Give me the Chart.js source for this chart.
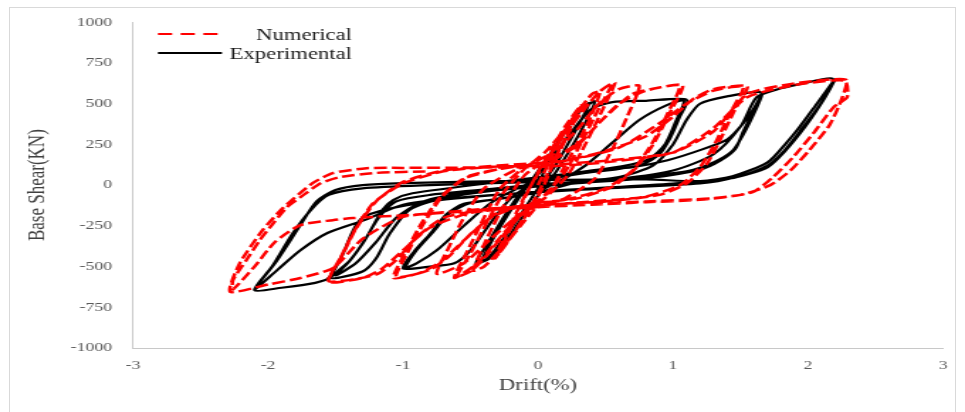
<!DOCTYPE html>
<html>
<head>
<meta charset="utf-8">
<title>Base Shear vs Drift</title>
<script src="https://cdn.jsdelivr.net/npm/chart.js@4.4.0/dist/chart.umd.min.js"></script>
<style>
  html, body { margin: 0; padding: 0; background: #ffffff; overflow: hidden; }
  #border { position: absolute; left: 9px; top: 7px; width: 947px; height: 410px; border: 1px solid #d9d9d9; box-sizing: border-box; }
  #frame { position: absolute; left: 0; top: 0; width: 680px; height: 412px; transform: scaleX(1.41912); transform-origin: 0 0; }
</style>
</head>
<body>
<div id="border"></div>
<div id="frame"><canvas id="chart"></canvas></div>
<script>
// Series names and axis ticks
const seriesNames = ['Numerical', 'Experimental'];
const driftTicks = [-3, -2, -1, 0, 1, 2, 3];
const shearTicks = [-1000, -750, -500, -250, 0, 250, 500, 750, 1000];

// Numerical model: drift (%) and base shear (kN), one continuous load history
const numDrift = [
  0, 0.1, 0.2, 0.3, 0.22, 0.1, 0, -0.1, -0.2, -0.3, -0.2, -0.1, 0, 0.1, 0.2, 0.32, 0.24, 0.12, 0.02, -0.1, -0.22, -0.32, -0.22, -0.1, 0,
  0.15, 0.3, 0.45, 0.55, 0.45, 0.32, 0.2, 0.05, -0.1, -0.25, -0.4, -0.5, -0.6, -0.5, -0.38, -0.25, -0.1, 0.05, 0.2, 0.35, 0.48, 0.57, 0.47, 0.35, 0.22, 0.05, -0.15, -0.3, -0.45, -0.62, -0.52, -0.4, -0.28, -0.1,
  0.1, 0.25, 0.4, 0.46, 0.38, 0.24, 0.1, -0.08, -0.26, -0.4, -0.48, -0.38, -0.25, -0.1,
  0.1, 0.3, 0.45, 0.6, 0.75, 0.66, 0.55, 0.42, 0.2, -0.1, -0.35, -0.55, -0.75, -0.66, -0.55, -0.4, -0.15,
  0.1, 0.3, 0.45, 0.6, 0.8, 1.07, 0.98, 0.86, 0.72, 0.55, 0.3, 0, -0.3, -0.5, -0.65, -0.8, -1.05, -0.97, -0.85, -0.72, -0.55, -0.25, 0.05, 0.3, 0.5, 0.7, 0.9, 1.05, 0.96, 0.84, 0.7, 0.5, 0.2, -0.1, -0.35, -0.55, -0.72, -0.88, -1.07, -0.98, -0.86, -0.72, -0.5, -0.2,
  0.2, 0.5, 0.8, 1.0, 1.15, 1.3, 1.55, 1.45, 1.35, 1.25, 1.1, 0.9, 0.5, 0, -0.4, -0.7, -0.9, -1.05, -1.2, -1.55, -1.45, -1.35, -1.2, -1.0, -0.7, -0.3, 0.2, 0.6, 0.9, 1.1, 1.3, 1.52, 1.42, 1.32, 1.2, 1.05, 0.8, 0.4, 0, -0.5, -0.8, -1.0, -1.15, -1.3, -1.55, -1.46, -1.36, -1.22, -1.0, -0.7, -0.3,
  0, 0.5, 1.0, 1.3, 1.55, 1.9, 2.28, 2.25, 2.16, 2.01, 1.87, 1.72, 1.5, 1.2, 0.8, 0.4, 0, -0.5, -1.0, -1.3, -1.52, -1.76, -2.0, -2.28, -2.21, -2.04, -1.89, -1.67, -1.52, -1.27, -1.0, -0.5, 0, 0.5, 1.0, 1.3, 1.55, 1.9, 2.27, 2.29, 2.19, 2.04, 1.89, 1.74, 1.59, 1.3, 0.8, 0.3, -0.3, -0.9, -1.37, -1.52, -1.76, -1.95, -2.1, -2.26, -2.26, -2.16, -2.06, -1.96, -1.86, -1.76, -1.61, -1.47, -1.2, -0.8
];
const numShear = [
  0, 170, 330, 470, 320, 120, -50, -190, -320, -430, -260, -80, 80, 220, 360, 490, 340, 140, -40, -200, -340, -450, -270, -70, 70,
  260, 420, 570, 625, 470, 260, 80, -60, -160, -300, -450, -530, -560, -420, -230, -40, 100, 200, 340, 480, 590, 630, 450, 250, 60, -80, -200, -340, -480, -570, -400, -200, -20, 110,
  200, 400, 560, 575, 400, 180, -20, -200, -380, -500, -525, -330, -120, 60,
  180, 350, 500, 590, 610, 420, 220, 40, -80, -160, -330, -480, -545, -380, -200, -20, 100,
  150, 250, 380, 500, 580, 615, 450, 260, 100, -10, -80, -110, -170, -300, -430, -520, -565, -420, -240, -80, 40, 105, 140, 260, 420, 560, 600, 612, 440, 250, 90, -20, -90, -120, -200, -340, -470, -540, -570, -410, -230, -70, 60, 110,
  150, 210, 300, 420, 530, 590, 608, 450, 280, 130, 10, -60, -100, -120, -150, -200, -320, -460, -550, -590, -430, -270, -100, 20, 90, 120, 150, 230, 380, 500, 580, 605, 440, 270, 110, 0, -70, -100, -125, -170, -260, -400, -510, -570, -595, -440, -280, -110, 10, 85, 115,
  120, 150, 200, 330, 560, 625, 648, 530, 370, 215, 90, 0, -60, -90, -105, -120, -135, -160, -195, -330, -510, -570, -610, -655, -480, -276, -141, 12, 74, 104, 106, 108, 112, 140, 200, 350, 540, 615, 642, 540, 479, 319, 172, 49, -43, -80, -100, -115, -140, -180, -202, -215, -245, -350, -500, -640, -583, -460, -337, -233, -135, -74, 12, 49, 75, 85
];

// Test record: drift (%) and base shear (kN), one continuous load history
const expDrift = [
  0, 0.08, 0.18, 0.28, 0.38, 0.32, 0.22, 0.12, 0, -0.12, -0.24, -0.35, -0.42, -0.36, -0.26, -0.15, -0.04, 0.08, 0.2, 0.32, 0.42, 0.36, 0.26, 0.14, 0.03, -0.1, -0.23, -0.36, -0.46, -0.39, -0.28, -0.16, -0.05,
  0.1, 0.25, 0.4, 0.55, 0.8, 1.1, 1.05, 0.98, 0.9, 0.78, 0.6, 0.35, 0.1, -0.05, -0.2, -0.35, -0.5, -0.62, -0.8, -1.0, -0.92, -0.8, -0.68, -0.55, -0.3, -0.05, 0.15, 0.35, 0.55, 0.75, 0.95, 1.08, 1.02, 0.94, 0.82, 0.62, 0.35, 0.05, -0.15, -0.35, -0.55, -0.75, -0.9, -0.98, -0.9, -0.78, -0.65, -0.5, -0.25, 0,
  0.3, 0.6, 0.85, 1.0, 1.1, 1.2, 1.4, 1.65, 1.6, 1.52, 1.46, 1.35, 1.2, 0.83, 0.3, -0.28, -0.7, -0.95, -1.1, -1.2, -1.3, -1.53, -1.39, -1.27, -1.15, -1.07, -0.93, -0.28, 0.46, 0.7, 0.96, 1.2, 1.4, 1.5, 1.59, 1.66, 1.6, 1.52, 1.44, 1.3, 1.1, 0.6, 0, -0.5, -0.85, -1.05, -1.2, -1.35, -1.5, -1.4, -1.3, -1.18, -1.05, -0.8, -0.3, 0.5,
  1.0, 1.3, 1.5, 1.62, 1.77, 1.94, 2.18, 2.11, 1.94, 1.8, 1.7, 1.47, 1.2, 0.5, -0.5, -1.0, -1.27, -1.56, -1.76, -1.93, -2.1, -1.94, -1.76, -1.64, -1.5, -1.3, -1.0, 0, 0.8, 1.2, 1.44, 1.7, 1.84, 1.94, 2.07, 2.2, 2.12, 1.98, 1.82, 1.7, 1.45, 1.0, 0, -0.8, -1.3, -1.45, -1.55, -1.65, -1.9, -2.1, -1.97, -1.82, -1.68, -1.55, -1.3, -0.8, 0
];
const expShear = [
  0, 150, 300, 430, 505, 400, 250, 110, -20, -170, -310, -430, -470, -370, -230, -90, 40, 180, 330, 460, 515, 400, 250, 90, -30, -180, -330, -450, -480, -380, -230, -80, 20,
  160, 330, 470, 510, 518, 525, 420, 290, 190, 130, 100, 75, 40, 0, -80, -230, -400, -480, -500, -512, -410, -300, -180, -115, -85, -50, 20, 120, 260, 400, 490, 520, 390, 250, 160, 115, 85, 45, -20, -110, -250, -400, -480, -505, -400, -290, -170, -110, -80, -45,
  20, 50, 120, 250, 400, 500, 545, 570, 460, 330, 220, 150, 95, 45, 12, -30, -80, -150, -300, -450, -530, -570, -460, -320, -150, -90, -50, 20, 92, 110, 153, 215, 280, 360, 460, 560, 440, 310, 210, 140, 85, 40, 5, -40, -100, -200, -350, -480, -555, -470, -360, -200, -100, -60, -20, 30,
  90, 190, 360, 540, 588, 620, 655, 520, 330, 190, 120, 50, 10, -20, -70, -120, -210, -294, -400, -520, -640, -470, -245, -100, -30, 0, 12, 30, 35, 25, 55, 140, 260, 360, 505, 650, 530, 360, 200, 110, 45, 10, -40, -100, -200, -430, -570, -600, -630, -645, -500, -300, -150, -60, -20, 0, 20
];

const toPoints = (xs, ys) => xs.map((x, i) => ({ x: x, y: ys[i] }));

const serif = "'Liberation Serif', 'Times New Roman', serif";
const numColor = '#ff0000';
const expColor = '#000000';

// In-plot legend with line samples and right-aligned labels
const insetLegend = {
  id: 'insetLegend',
  afterDraw(chart) {
    const ctx = chart.ctx;
    const rows = [
      { ds: chart.data.datasets[0], x1: 111.3, x2: 153.6, y: 34, dash: [10, 6], base: 40 },
      { ds: chart.data.datasets[1], x1: 111.3, x2: 156.4, y: 53, dash: [], base: 58.5 }
    ];
    ctx.save();
    rows.forEach(r => {
      ctx.beginPath();
      ctx.setLineDash(r.dash);
      ctx.lineWidth = 2.2;
      ctx.strokeStyle = r.ds.borderColor;
      ctx.moveTo(r.x1, r.y);
      ctx.lineTo(r.x2, r.y);
      ctx.stroke();
      ctx.setLineDash([]);
      ctx.font = '16px ' + serif;
      ctx.fillStyle = '#1a1a1a';
      ctx.textAlign = 'right';
      ctx.textBaseline = 'alphabetic';
      ctx.fillText(r.ds.label, 248, r.base);
    });
    ctx.restore();
  }
};

new Chart(document.getElementById('chart'), {
  type: 'line',
  data: {
    datasets: [
      {
        label: seriesNames[0],
        data: toPoints(numDrift, numShear),
        borderColor: numColor,
        borderWidth: 2.5,
        borderDash: [9, 3.5],
        pointRadius: 0,
        fill: false,
        tension: 0.2
      },
      {
        label: seriesNames[1],
        data: toPoints(expDrift, expShear),
        borderColor: expColor,
        borderWidth: 2.2,
        pointRadius: 0,
        fill: false,
        tension: 0.25
      }
    ]
  },
  options: {
    responsive: true,
    maintainAspectRatio: false,
    animation: false,
    layout: { padding: { left: 0, right: 15.5, top: 22, bottom: 0 } },
    plugins: {
      legend: { display: false },
      tooltip: { enabled: false }
    },
    scales: {
      x: {
        type: 'linear',
        min: -3,
        max: 3,
        afterBuildTicks: s => { s.ticks = driftTicks.map(v => ({ value: v })); },
        afterFit: s => { s.height = 64; },
        grid: { display: false, drawTicks: false },
        border: { display: true, color: '#c8c8c8', width: 1 },
        ticks: {
          padding: 10,
          color: '#595959',
          font: { family: serif, size: 12.5 },
          callback: v => String(v)
        },
        title: {
          display: true,
          text: 'Drift(%)',
          color: '#404040',
          font: { family: serif, size: 16 },
          padding: { top: 0, bottom: 17 }
        }
      },
      y: {
        min: -1000,
        max: 1000,
        afterBuildTicks: s => { s.ticks = shearTicks.map(v => ({ value: v })); },
        afterFit: s => { s.width = 93.72; },
        grid: { display: false, drawTicks: false },
        border: { display: true, color: '#c8c8c8', width: 1 },
        ticks: {
          padding: 14.8,
          color: '#595959',
          font: { family: serif, size: 12.5 },
          callback: v => String(v)
        },
        title: {
          display: true,
          text: 'Base Shear(KN)',
          color: '#404040',
          font: { family: serif, size: 17 },
          padding: { top: 16.6, bottom: 0 }
        }
      }
    }
  },
  plugins: [insetLegend]
});
</script>
</body>
</html>
